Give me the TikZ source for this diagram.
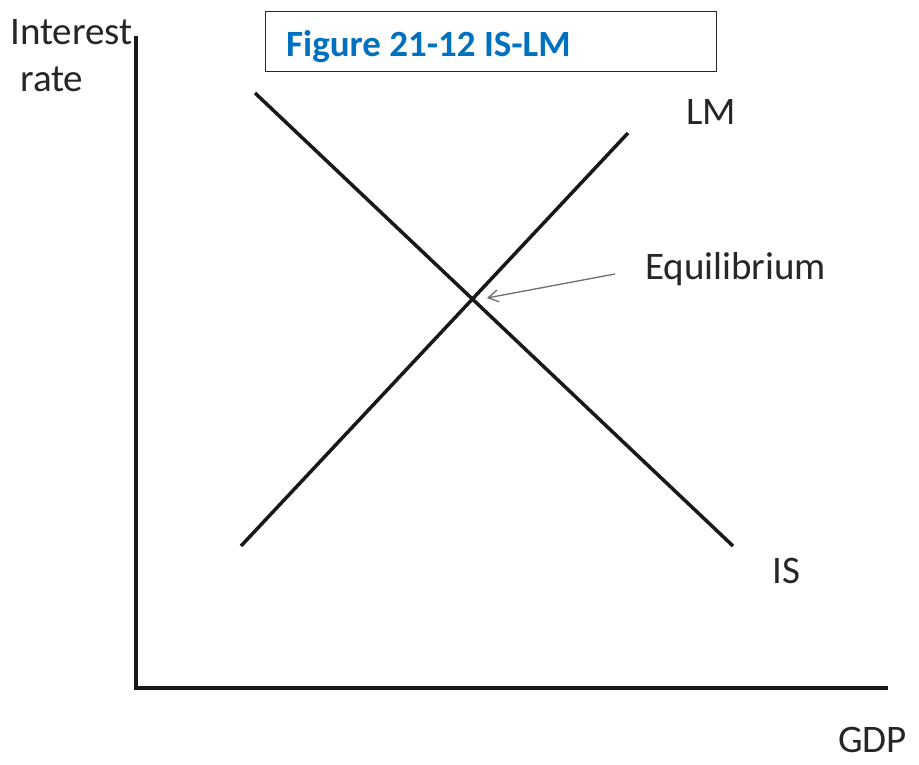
\documentclass[tikz,border=0pt]{standalone}
\usepackage{fontspec}
\usetikzlibrary{arrows.meta}
\setmainfont{Carlito}
\definecolor{titleblue}{RGB}{0,112,192}
\definecolor{arrowgray}{RGB}{110,110,110}
\begin{document}
\begin{tikzpicture}[x=1pt,y=-1pt,
  lbl/.style={inner sep=0pt, anchor=base west, font=\fontsize{39}{45}\selectfont, text=black!85},
  curve/.style={line width=3.5pt, black!90},
  axis/.style={line width=4pt, black!90, line cap=rect}]
\useasboundingbox (0,0) rectangle (919,765);
\fill[white] (0,0) rectangle (919,765);
% axes
\coordinate (top) at (136,38);
\coordinate (origin) at (136,688);
\coordinate (right) at (886,688);
\draw[axis] (top) -- (origin) -- (right);
% title box
\node[draw=black!85, line width=1.3pt, minimum width=451pt, minimum height=60pt, inner sep=0pt, anchor=north west] (box) at (265,11) {};
\node[inner sep=0pt, anchor=base west, font=\fontsize{37}{44}\selectfont\bfseries, text=titleblue] (title) at (286,57) {Figure 21-12 IS-LM};
% curves
\coordinate (is1) at (255,93);
\coordinate (is2) at (733,546);
\coordinate (lm1) at (241,546);
\coordinate (lm2) at (628,133);
\draw[curve] (is1) -- (is2);
\draw[curve] (lm1) -- (lm2);
% labels
\node[lbl] (ylab1) at (10,45) {Interest};
\node[lbl] (ylab2) at (20,92) {rate};
\node[lbl] (lm) at (686,125) {LM};
\node[lbl] (is) at (772,583) {IS};
\node[lbl] (gdp) at (838,752) {GDP};
\node[lbl] (eq) at (645,279) {Equilibrium};
% arrow
\coordinate (atail) at (615,274);
\coordinate (ahead) at (487,298);
\draw[arrowgray, line width=1.3pt, -{Straight Barb[length=10pt,width=12pt]}] (atail) -- (ahead);
\end{tikzpicture}
\end{document}
